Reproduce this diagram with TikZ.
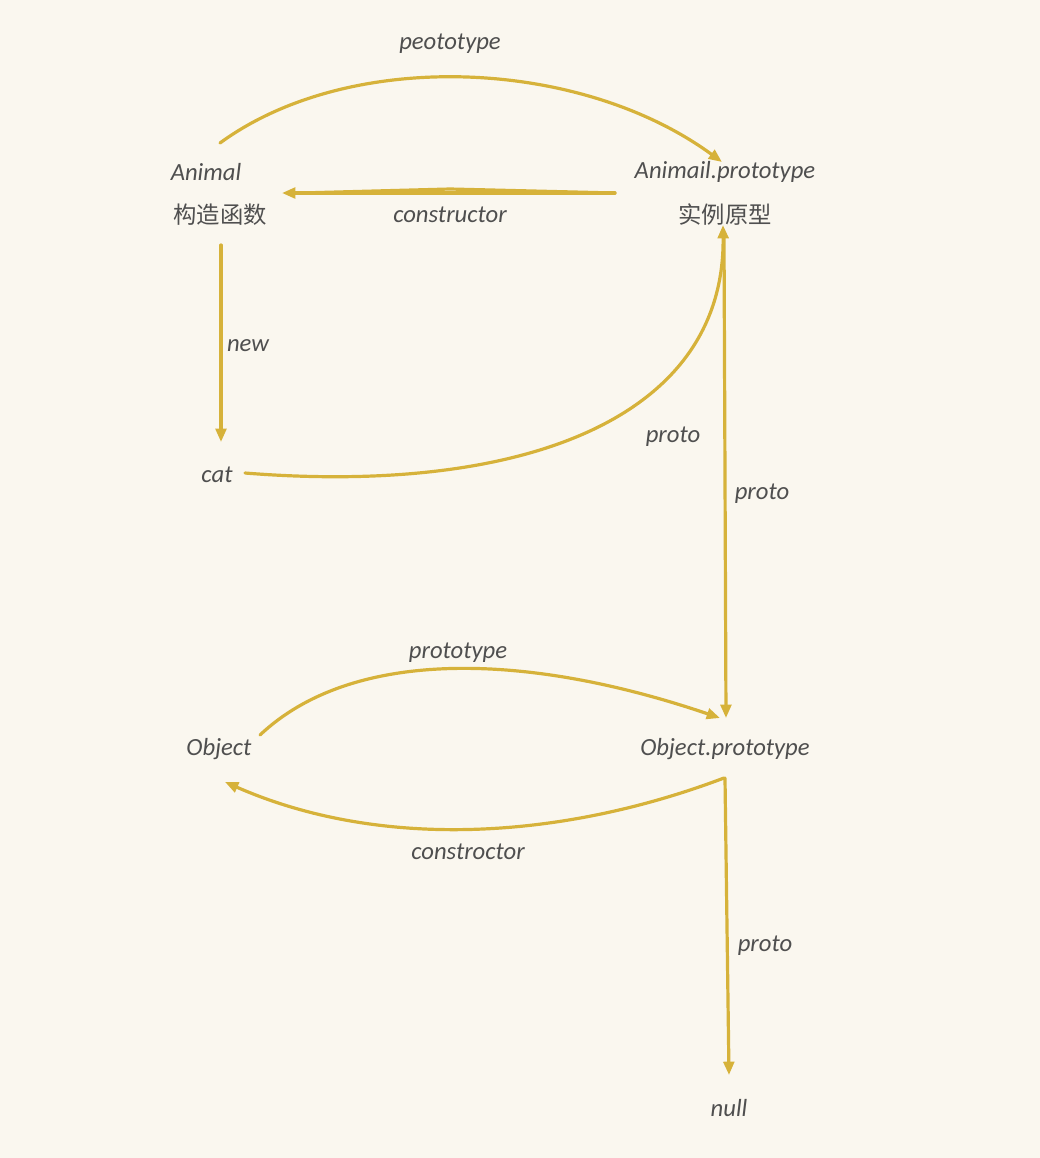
\documentclass[tikz,border=0pt]{standalone}
\usepackage{fontspec}
\setmainfont{Carlito}
\newfontfamily\cjk{Noto Sans CJK SC}
\usetikzlibrary{arrows.meta}
\definecolor{bg}{HTML}{FAF7EF}
\definecolor{gold}{HTML}{D6B23A}
\definecolor{ink}{HTML}{4F4F4F}
\begin{document}
\begin{tikzpicture}[x=0.75pt,y=-0.75pt,
  lbl/.style={font=\fontsize{18.5}{22}\selectfont\itshape, text=ink, inner sep=1pt},
  cn/.style={font=\fontsize{17.5}{22}\selectfont\cjk, text=ink, inner sep=1pt},
  arr/.style={draw=gold, line width=2.4pt, line cap=round, -{Triangle[length=10pt,width=8pt]}},
  ln/.style={draw=gold, line width=2.4pt, line cap=round}]
\fill[bg] (0,0) rectangle (1040,1158);
\useasboundingbox (0,0) rectangle (1040,1158);
% nodes
\node[lbl] (animal) at (206,172) {Animal};
\node[cn] (animalcn) at (220,215) {构造函数};
\node[lbl] (aproto) at (725,172) {Animail.prototype};
\node[cn] (aprotocn) at (725,215) {实例原型};
\node[lbl] (cat) at (217,475) {cat};
\node[lbl] (object) at (219,749) {Object};
\node[lbl] (oproto) at (725,749) {Object.prototype};
\node[lbl] (null) at (729,1108) {null};
% anchor coordinates
\coordinate (a1) at (220,143);
\coordinate (a2) at (722,162);
\coordinate (c1) at (615,193);
\coordinate (c2) at (282,193);
\coordinate (n1) at (221,245);
\coordinate (n2) at (221,442);
\coordinate (p1) at (245,473);
\coordinate (p2) at (723,225);
\coordinate (v1) at (724,235);
\coordinate (v2) at (726,718);
\coordinate (o1) at (260,735);
\coordinate (o2) at (720,718);
\coordinate (r1) at (724,778);
\coordinate (r2) at (225,782);
\coordinate (q1) at (725,778);
\coordinate (q2) at (729,1075);
% connectors
\draw[arr] (a1) .. controls (350,48) and (580,58) .. (a2);
\draw[arr] (c1) -- (c2);
\draw[ln] (c1) -- (450,189) -- (300,193);
\draw[arr] (n1) -- (n2);
\draw[arr] (p1) .. controls (520,495) and (725,420) .. (p2);
\draw[arr] (v1) -- (v2);
\draw[arr] (o1) .. controls (350,650) and (520,650) .. (o2);
\draw[arr] (r1) .. controls (560,840) and (380,850) .. (r2);
\draw[arr] (q1) -- (q2);
% labels
\node[lbl] (l1) at (450,44) {peototype};
\node[lbl] (l2) at (450,215) {constructor};
\node[lbl] (l3) at (248,346) {new};
\node[lbl] (l4) at (673,437) {proto};
\node[lbl] (l5) at (762,494) {proto};
\node[lbl] (l6) at (458,653) {prototype};
\node[lbl] (l7) at (468,852) {constroctor};
\node[lbl] (l8) at (765,946) {proto};
\end{tikzpicture}
\end{document}
